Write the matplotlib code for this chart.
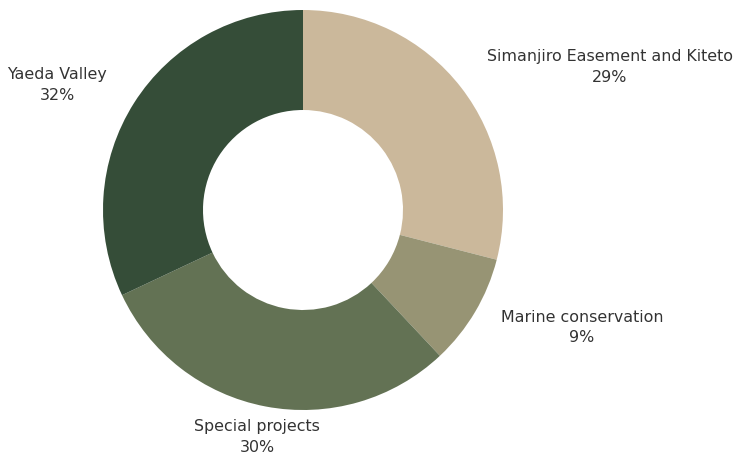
import matplotlib
matplotlib.use("Agg")
import matplotlib.pyplot as plt

categories = ["Simanjiro Easement and Kiteto", "Marine conservation", "Special projects", "Yaeda Valley"]
values = [29, 9, 30, 32]
colors = ["#cbb89b", "#979474", "#637254", "#354d38"]

# label anchor positions in pixels (x, y of first line)
label_px = [(610, 56), (582, 317), (257, 427), (57, 75)]

W, H = 734, 457
cx, cy = 303, 210
fig = plt.figure(figsize=(W / 100, H / 100), dpi=100)
ax = fig.add_axes([0, 0, 1, 1])

ax.pie(values, colors=colors, startangle=90, counterclock=False, radius=200,
       wedgeprops=dict(width=100, edgecolor="white", linewidth=0))

ax.set_xlim(-cx, W - cx)
ax.set_ylim(-(H - cy), cy)
ax.set_aspect("equal")
ax.axis("off")

for cat, v, (px, py) in zip(categories, values, label_px):
    ax.text(px - cx, cy - py, cat, ha="center", va="center", fontsize=11.4,
            color="#333333", family="DejaVu Sans")
    ax.text(px - cx, cy - py - 21, f"{v}%", ha="center", va="center", fontsize=11.4,
            color="#333333", family="DejaVu Sans")

fig.savefig("out.png", dpi=100)
